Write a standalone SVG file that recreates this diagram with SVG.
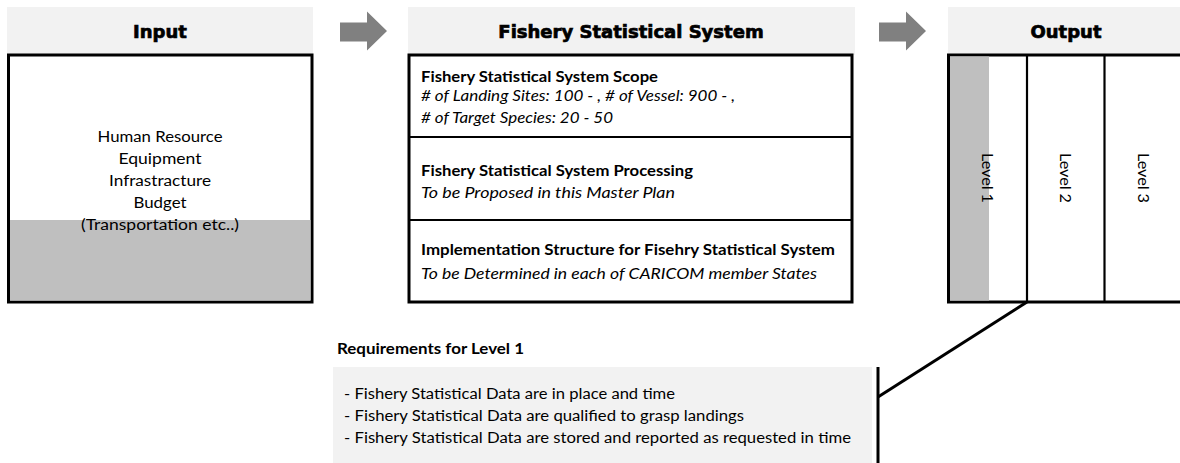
<svg xmlns="http://www.w3.org/2000/svg" width="1180" height="463" viewBox="0 0 1180 463">
<style>
.hdr{fill:#f2f2f2}
.htxt{font-family:"DejaVu Sans",sans-serif;font-weight:bold;font-size:18px;fill:#000;stroke:#000;stroke-width:0.7;text-anchor:middle}
.box{fill:#fff;stroke:#000;stroke-width:3}
.shade{fill:#bfbfbf}
.div{stroke:#000;stroke-width:2.2}
.t{font-family:Lato,"Liberation Sans",sans-serif;font-size:14.5px;fill:#000}
.b{font-weight:bold}
.i{font-style:italic}
.mid{text-anchor:middle}
.arrow{fill:#808080}
.conn{stroke:#000;stroke-width:3;fill:none}
</style>
<rect width="1180" height="463" fill="#fff"/>

<g id="arrow1"><polygon class="arrow" points="340,22.5 367,22.5 367,11.5 387,31 367,50.5 367,41.5 340,41.5"/></g>
<g id="arrow2"><polygon class="arrow" points="879,22.5 906,22.5 906,11.5 926,31 906,50.5 906,41.5 879,41.5"/></g>

<g id="input">
<rect class="hdr" x="7" y="7" width="306" height="48"/>
<text class="htxt" x="160" y="38">Input</text>
<rect class="box" x="8.5" y="55" width="303.5" height="247"/>
<rect class="shade" x="10" y="220" width="300.5" height="80.5"/>
<text class="t mid" x="160" y="142" textLength="125" lengthAdjust="spacingAndGlyphs">Human Resource</text>
<text class="t mid" x="160" y="164" textLength="83" lengthAdjust="spacingAndGlyphs">Equipment</text>
<text class="t mid" x="160" y="186" textLength="102" lengthAdjust="spacingAndGlyphs">Infrastracture</text>
<text class="t mid" x="160" y="208" textLength="53" lengthAdjust="spacingAndGlyphs">Budget</text>
<text class="t mid" x="160" y="230" textLength="158" lengthAdjust="spacingAndGlyphs">(Transportation etc..)</text>
</g>

<g id="fss">
<rect class="hdr" x="408" y="7" width="447" height="48"/>
<text class="htxt" x="631" y="38">Fishery Statistical System</text>
<rect class="box" x="409" y="55" width="443" height="247"/>
<line class="div" x1="409" y1="137" x2="852" y2="137"/>
<line class="div" x1="409" y1="220" x2="852" y2="220"/>
<text class="t b" x="421" y="82" textLength="237" lengthAdjust="spacingAndGlyphs">Fishery Statistical System Scope</text>
<text class="t i" x="421" y="101" textLength="314" lengthAdjust="spacingAndGlyphs"># of Landing Sites: 100 - , # of Vessel: 900 - ,</text>
<text class="t i" x="421" y="123" textLength="192" lengthAdjust="spacingAndGlyphs"># of Target Species: 20 - 50</text>
<text class="t b" x="421" y="176" textLength="272" lengthAdjust="spacingAndGlyphs">Fishery Statistical System Processing</text>
<text class="t i" x="421" y="198" textLength="254" lengthAdjust="spacingAndGlyphs">To be Proposed in this Master Plan</text>
<text class="t b" x="421" y="255" textLength="414" lengthAdjust="spacingAndGlyphs">Implementation Structure for Fisehry Statistical System</text>
<text class="t i" x="421" y="279" textLength="396" lengthAdjust="spacingAndGlyphs">To be Determined in each of CARICOM member States</text>
</g>

<g id="output">
<rect class="hdr" x="948" y="7" width="232" height="48"/>
<text class="htxt" x="1066" y="38">Output</text>
<rect class="box" x="948.5" y="55" width="260" height="247"/>
<rect class="shade" x="950" y="56.5" width="39" height="244"/>
<line class="div" x1="1027" y1="55" x2="1027" y2="302"/>
<line class="div" x1="1104.5" y1="55" x2="1104.5" y2="302"/>
<text class="t" transform="translate(982,153) rotate(90)" textLength="50" lengthAdjust="spacingAndGlyphs">Level 1</text>
<text class="t" transform="translate(1060,153) rotate(90)" textLength="50" lengthAdjust="spacingAndGlyphs">Level 2</text>
<text class="t" transform="translate(1138,153) rotate(90)" textLength="50" lengthAdjust="spacingAndGlyphs">Level 3</text>
</g>

<g id="requirements">
<text class="t b" x="337" y="354" font-size="13" textLength="187" lengthAdjust="spacingAndGlyphs">Requirements for Level 1</text>
<rect x="333" y="367" width="539" height="96" fill="#f2f2f2"/>
<text class="t" x="344" y="399" textLength="331" lengthAdjust="spacingAndGlyphs">- Fishery Statistical Data are in place and time</text>
<text class="t" x="344" y="421" textLength="400" lengthAdjust="spacingAndGlyphs">- Fishery Statistical Data are qualified to grasp landings</text>
<text class="t" x="344" y="443" textLength="507" lengthAdjust="spacingAndGlyphs">- Fishery Statistical Data are stored and reported as requested in time</text>
</g>

<g id="connectors">
<line class="conn" x1="1027" y1="302" x2="878" y2="397"/>
<line class="conn" x1="878" y1="367" x2="878" y2="463"/>
</g>
</svg>
